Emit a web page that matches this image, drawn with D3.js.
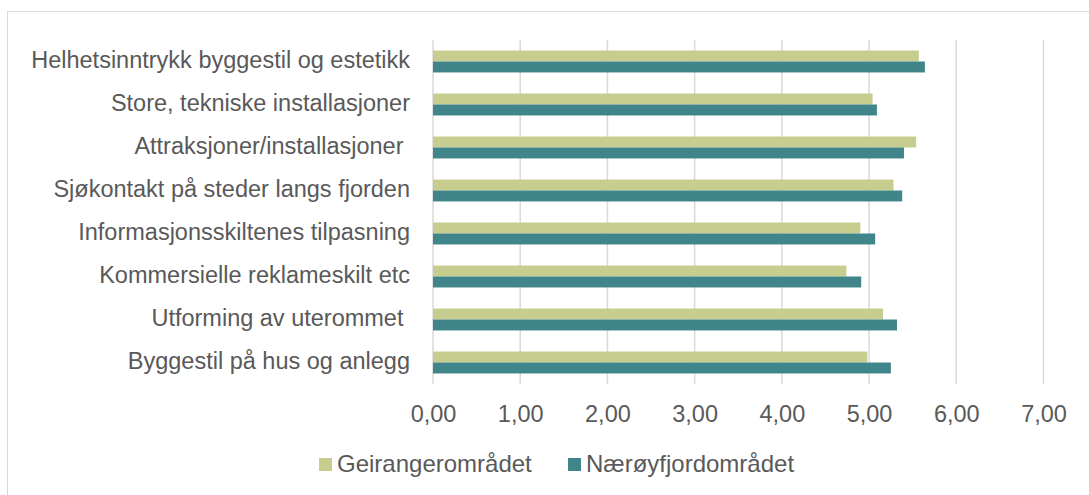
<!DOCTYPE html>
<html>
<head>
<meta charset="utf-8">
<script src="https://cdn.jsdelivr.net/npm/d3@7"></script>
<style>
  body { margin: 0; background: #fff; }
  svg { font-family: "Liberation Sans", Arial, sans-serif; }
</style>
</head>
<body>
<div id="chart"></div>
<script>
const categories = [
  "Helhetsinntrykk byggestil og estetikk",
  "Store, tekniske installasjoner",
  "Attraksjoner/installasjoner ",
  "Sjøkontakt på steder langs fjorden",
  "Informasjonsskiltenes tilpasning",
  "Kommersielle reklameskilt etc",
  "Utforming av uterommet ",
  "Byggestil på hus og anlegg"
];
const seriesNames = ["Geirangerområdet", "Nærøyfjordområdet"];
const geiranger = [5.57, 5.04, 5.54, 5.28, 4.90, 4.74, 5.16, 4.98];
const naeroy = [5.64, 5.09, 5.40, 5.38, 5.07, 4.91, 5.32, 5.25];
const tickValues = [0, 1, 2, 3, 4, 5, 6, 7];
const colors = ["#c7cc8f", "#40858a"];

const W = 1089, H = 495;
const plot = { left: 433, right: 1043.5, top: 40, bottom: 384 };

const svg = d3.select("#chart").append("svg")
  .attr("width", W)
  .attr("height", H);

// chart border
svg.append("rect")
  .attr("x", 7.5).attr("y", 11.5)
  .attr("width", W - 7).attr("height", H)
  .attr("fill", "none")
  .attr("stroke", "#d9d9d9")
  .attr("stroke-width", 1);

const x = d3.scaleLinear().domain([0, 7]).range([plot.left, plot.right]);
const y = d3.scaleBand().domain(categories).range([plot.top, plot.bottom]).paddingInner(0.49).paddingOuter(0.245);
const sub = d3.scaleBand().domain(seriesNames).range([0, y.bandwidth()]);

// gridlines
svg.append("g").selectAll("line")
  .data(tickValues)
  .enter().append("line")
  .attr("x1", d => x(d)).attr("x2", d => x(d))
  .attr("y1", plot.top).attr("y2", plot.bottom)
  .attr("stroke", "#d9d9d9")
  .attr("stroke-width", 1.5);

// bars
const rows = categories.map((c, i) => ({ cat: c, values: [geiranger[i], naeroy[i]] }));
const groups = svg.append("g").selectAll("g")
  .data(rows)
  .enter().append("g")
  .attr("transform", d => `translate(0,${y(d.cat)})`);

groups.selectAll("rect")
  .data(d => d.values.map((v, j) => ({ name: seriesNames[j], value: v, j })))
  .enter().append("rect")
  .attr("x", x(0))
  .attr("y", d => sub(d.name))
  .attr("width", d => x(d.value) - x(0))
  .attr("height", sub.bandwidth())
  .attr("fill", d => colors[d.j]);

// x axis labels
const xAxis = d3.axisBottom(x)
  .tickValues(tickValues)
  .tickFormat(d => d3.format(".2f")(d).replace(".", ","))
  .tickSize(0)
  .tickPadding(21);
const gx = svg.append("g")
  .attr("transform", `translate(0,${plot.bottom})`)
  .call(xAxis);
gx.select(".domain").remove();
gx.selectAll("text")
  .style("font-size", "23.5px")
  .attr("fill", "#595959");

// category labels
const yAxis = d3.axisLeft(y).tickSize(0).tickPadding(23);
const gy = svg.append("g")
  .attr("transform", `translate(${plot.left},0)`)
  .call(yAxis);
gy.select(".domain").remove();
gy.selectAll("text")
  .style("font-size", "23.5px")
  .attr("fill", "#595959")
  .attr("dy", "0.28em")
  .style("white-space", "pre");

// legend
const legend = svg.append("g").attr("transform", "translate(0,464)");
const legendX = [319, 568];
seriesNames.forEach((name, i) => {
  const g = legend.append("g").attr("transform", `translate(${legendX[i]},0)`);
  g.append("rect")
    .attr("x", 0).attr("y", -6)
    .attr("width", 13).attr("height", 13)
    .attr("fill", colors[i]);
  g.append("text")
    .attr("x", 18).attr("y", 0)
    .attr("dy", ".35em")
    .style("font-size", "24px")
    .attr("fill", "#595959")
    .text(name);
});
</script>
</body>
</html>
